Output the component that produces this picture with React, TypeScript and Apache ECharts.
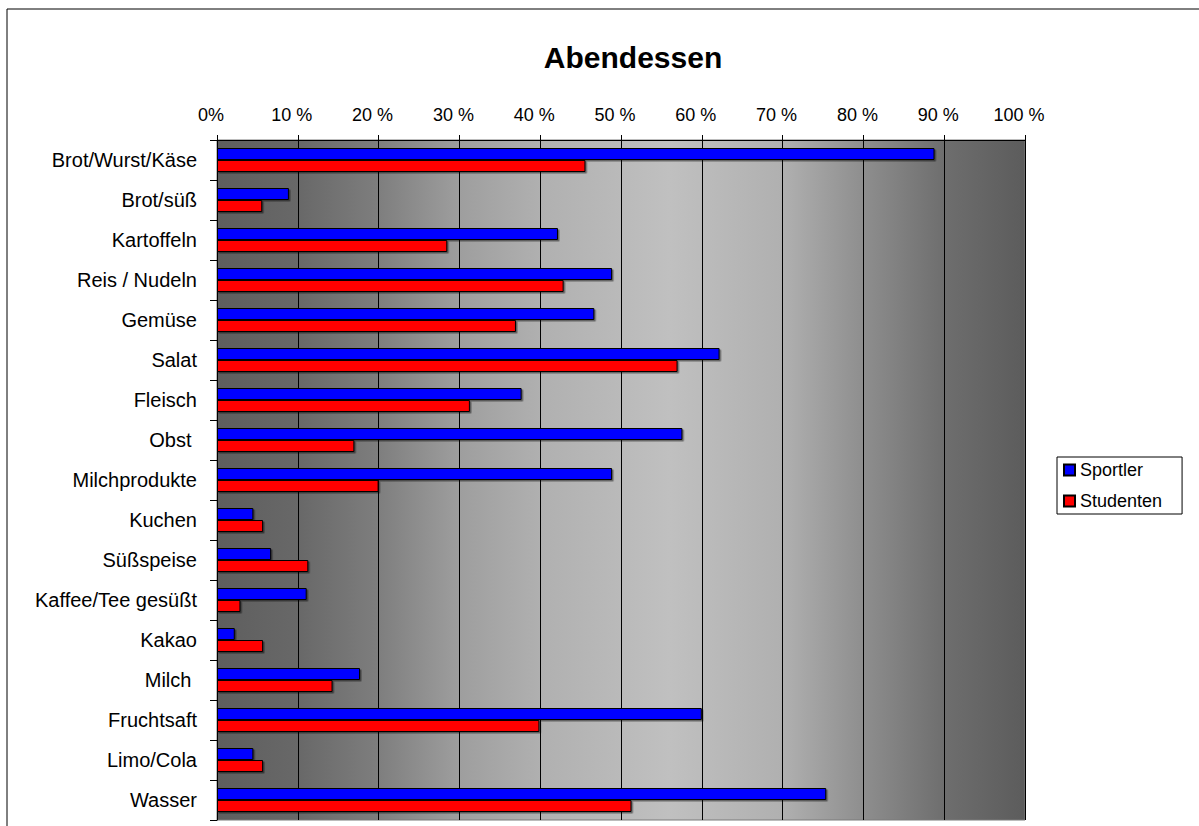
import React, { useEffect, useRef } from "react";
import * as echarts from "echarts";

const categories = [
  "Brot/Wurst/Käse",
  "Brot/süß",
  "Kartoffeln",
  "Reis / Nudeln",
  "Gemüse",
  "Salat",
  "Fleisch",
  "Obst ",
  "Milchprodukte",
  "Kuchen",
  "Süßspeise",
  "Kaffee/Tee gesüßt",
  "Kakao",
  "Milch ",
  "Fruchtsaft",
  "Limo/Cola",
  "Wasser",
];
const sportler = [88.8, 8.9, 42.2, 48.9, 46.7, 62.2, 37.7, 57.6, 48.9, 4.5, 6.7, 11.1, 2.2, 17.7, 60.0, 4.5, 75.4];
const studenten = [45.6, 5.6, 28.5, 42.9, 37.0, 57.0, 31.3, 17.0, 20.0, 5.7, 11.3, 2.9, 5.7, 14.3, 39.9, 5.7, 51.3];
const seriesNames = ["Sportler", "Studenten"];
const titleText = "Abendessen";

const FONT = "'Liberation Sans', Arial, Helvetica, sans-serif";

export default function App() {
  const ref = useRef<HTMLDivElement>(null);
  useEffect(() => {
    document.body.style.margin = "0";
    const chart = echarts.init(ref.current!, null, { renderer: "svg" });
    const bg = new echarts.graphic.LinearGradient(0, 0, 1, 0, [
      { offset: 0, color: "#5e5e5e" },
      { offset: 0.1, color: "#686868" },
      { offset: 0.2, color: "#7e7e7e" },
      { offset: 0.3, color: "#9e9e9e" },
      { offset: 0.4, color: "#b0b0b0" },
      { offset: 0.56, color: "#c0c0c0" },
      { offset: 0.7, color: "#b0b0b0" },
      { offset: 0.8, color: "#8e8e8e" },
      { offset: 0.9, color: "#6e6e6e" },
      { offset: 1, color: "#5c5c5c" },
    ]);
    const barStyle = (color: string) => ({
      color,
      borderColor: "#000",
      borderWidth: 1,
      shadowColor: "rgba(0,0,0,0.45)",
      shadowOffsetX: 1.5,
      shadowOffsetY: 1.5,
      shadowBlur: 0,
    });
    chart.setOption({
      animation: false,
      backgroundColor: "#fff",
      textStyle: { fontFamily: FONT, color: "#000" },
      graphic: [
        {
          type: "rect",
          shape: { x: 7, y: 9, width: 1400, height: 1000 },
          style: { fill: "none", stroke: "#000", lineWidth: 1 },
          silent: true,
        },
        {
          type: "text",
          x: 633,
          y: 57,
          style: {
            text: titleText,
            fontFamily: FONT,
            fontSize: 30,
            fontWeight: "bold",
            fill: "#000",
            textAlign: "center",
            textVerticalAlign: "middle",
          },
        },
      ],
      legend: {
        orient: "vertical",
        left: 1057,
        top: 457,
        data: seriesNames,
        icon: "rect",
        itemWidth: 11,
        itemHeight: 11,
        itemGap: 13,
        padding: [4, 20, 4, 6],
        borderColor: "#000",
        borderWidth: 1,
        backgroundColor: "#fff",
        textStyle: { fontFamily: FONT, fontSize: 18, color: "#000" },
      },
      grid: {
        left: 217,
        top: 140,
        right: 174,
        bottom: 6,
        show: true,
        backgroundColor: bg,
        borderColor: "#7a7a7a",
        borderWidth: 1,
      },
      xAxis: {
        type: "value",
        position: "top",
        min: 0,
        max: 100,
        interval: 10,
        axisLine: { show: true, lineStyle: { color: "#000", width: 1 } },
        axisTick: { show: true, length: 5, lineStyle: { color: "#000" } },
        axisLabel: {
          fontFamily: FONT,
          fontSize: 18,
          color: "#000",
          margin: 16,
          padding: [0, 12, 0, 0],
          formatter: (v: number) => (v === 0 ? "0%" : v + " %"),
        },
        splitLine: { show: true, lineStyle: { color: "#000", width: 1 } },
      },
      yAxis: {
        type: "category",
        inverse: true,
        data: categories,
        axisLine: { show: true, lineStyle: { color: "#000", width: 1 } },
        axisTick: { show: true, length: 7, lineStyle: { color: "#000" } },
        axisLabel: { fontFamily: FONT, fontSize: 20, color: "#000", margin: 20 },
        splitLine: { show: false },
      },
      series: [
        {
          name: seriesNames[0],
          type: "bar",
          data: sportler,
          barGap: "0%",
          barCategoryGap: "40%",
          itemStyle: barStyle("#0000ff"),
        },
        {
          name: seriesNames[1],
          type: "bar",
          data: studenten,
          barGap: "0%",
          barCategoryGap: "40%",
          itemStyle: barStyle("#ff0000"),
        },
      ],
    });
    return () => chart.dispose();
  }, []);
  return <div ref={ref} style={{ width: 1199, height: 826 }} />;
}
